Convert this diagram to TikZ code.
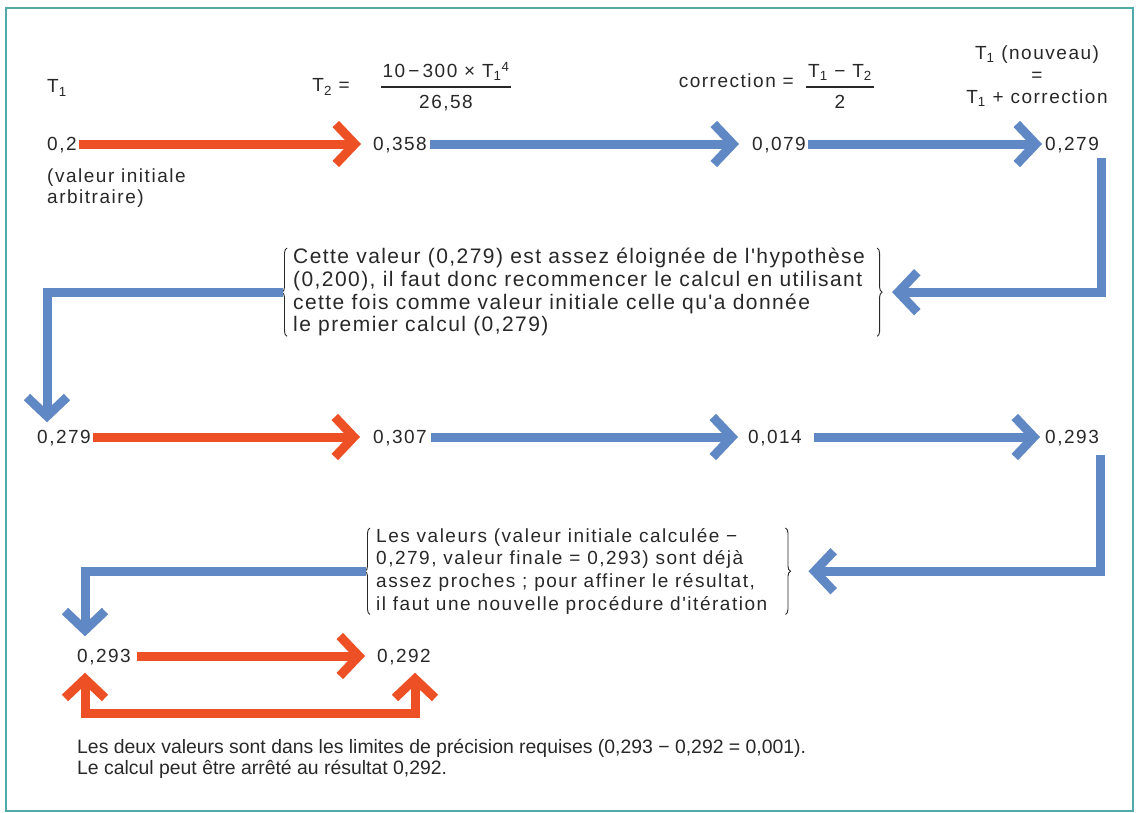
\documentclass[tikz,border=0pt]{standalone}
\usepackage{fontspec}
\setmainfont{Liberation Sans}
\newfontfamily\spaced[LetterSpace=8]{Liberation Sans}
\newfontfamily\spacedwide[LetterSpace=6.8]{Liberation Sans}
\usetikzlibrary{arrows.meta,decorations.pathreplacing}
\definecolor{arrred}{RGB}{238,80,38}
\definecolor{arrblue}{RGB}{96,136,196}
\definecolor{framec}{RGB}{80,170,170}
\definecolor{ink}{RGB}{40,40,40}
\begin{document}
\begin{tikzpicture}[x=1pt,y=-1pt,
  chev/.tip={Straight Barb[length=19pt,width=40pt,sharp]},
  every node/.style={text=ink, inner sep=0pt, font=\spaced\fontsize{19}{23}\selectfont},
  val/.style={anchor=west, text height=13pt, text depth=0pt},
  note/.style={anchor=north west, align=left, font=\spaced\fontsize{19}{22.7}\selectfont},
  flow/.style={line width=9pt, -chev},
  hot/.style={flow, draw=arrred},
  cold/.style={flow, draw=arrblue},
  bracemark/.style={line width=0.9pt, draw=ink, decorate, decoration={brace, amplitude=5pt}},
]
\useasboundingbox (0,0) rectangle (1137,812);
\fill[white] (0,0) rectangle (1137,812);
\draw[framec, line width=2pt] (6,8) rectangle (1133,811);

% column headings
\node[anchor=west] (t1) at (47,88) {T\textsubscript{1}};
\node[anchor=east] (t2) at (350,87) {T\textsubscript{2} =};
\node (f1) at (446,87) {\setlength{\arrayrulewidth}{1.2pt}\renewcommand{\arraystretch}{1.3}%
  \begin{tabular}{@{\hspace{2pt}}c@{\hspace{2pt}}}10\,−\,300 × T\textsubscript{1}\textsuperscript{4}\\\hline 26,58\end{tabular}};
\node[anchor=east] (corr) at (794,81) {correction =};
\node (f2) at (840,87) {\setlength{\arrayrulewidth}{1.2pt}\renewcommand{\arraystretch}{1.3}%
  \begin{tabular}{@{\hspace{2pt}}c@{\hspace{2pt}}}T\textsubscript{1} − T\textsubscript{2}\\\hline 2\end{tabular}};
\node[align=center, font=\spaced\fontsize{19}{22}\selectfont] (tn) at (1037,76)
  {T\textsubscript{1} (nouveau)\\=\\T\textsubscript{1} + correction};

% first pass
\node[val] (a1) at (47,144) {0,2};
\node[anchor=north west, align=left, font=\spaced\fontsize{19}{21}\selectfont] (ini) at (47,169) {(valeur initiale\\arbitraire)};
\node[val] (b1) at (373,144) {0,358};
\node[val] (c1) at (752,144) {0,079};
\node[val] (d1) at (1045,144) {0,279};
\draw[hot]  ([xshift=2pt]a1.east) -- ([xshift=-12pt]b1.west);
\draw[cold] ([xshift=3pt]b1.east) -- ([xshift=-13pt]c1.west);
\draw[cold] ([xshift=2pt]c1.east) -- ([xshift=-3pt]d1.west);

\node[note, font=\spacedwide\fontsize{21}{22.7}\selectfont] (n1) at (293,248) {Cette valeur (0,279) est assez éloignée de l'hypothèse\\
  (0,200), il faut donc recommencer le calcul en utilisant\\
  cette fois comme valeur initiale celle qu'a donnée\\
  le premier calcul (0,279)};
\draw[bracemark] ([xshift=-6pt]n1.south west) -- ([xshift=-6pt]n1.north west);
\draw[bracemark] ([xshift=12pt]n1.north east) -- ([xshift=12pt]n1.south east);
\coordinate (drop1) at (1101,158);
\draw[cold] (drop1) |- ([xshift=27pt]n1.east);

% second pass
\node[val] (a2) at (37,437) {0,279};
\node[val] (b2) at (373,437) {0,307};
\node[val] (c2) at (748,437) {0,014};
\node[val] (d2) at (1045,437) {0,293};
\draw[cold] ([xshift=-10pt]n1.west) -| ([xshift=10pt,yshift=8pt]a2.north west);
\draw[hot]  ([xshift=2pt]a2.east) -- ([xshift=-13pt]b2.west);
\draw[cold] ([xshift=4pt]b2.east) -- ([xshift=-10pt]c2.west);
\draw[cold] ([xshift=12pt]c2.east) -- ([xshift=-5pt]d2.west);

\node[note] (n2) at (376,528) {Les valeurs (valeur initiale calculée −\\
  0,279, valeur finale = 0,293) sont déjà\\
  assez proches ; pour affiner le résultat,\\
  il faut une nouvelle procédure d'itération};
\draw[bracemark] ([xshift=-6pt]n2.south west) -- ([xshift=-6pt]n2.north west);
\draw[bracemark] ([xshift=18pt]n2.north east) -- ([xshift=18pt]n2.south east);
\coordinate (drop2) at (1100,455);
\draw[cold] (drop2) |- ([xshift=41pt]n2.east);

% final pass
\node[val] (a3) at (77,656) {0,293};
\node[val] (b3) at (377,656) {0,292};
\draw[cold] ([xshift=-10pt]n2.west) -| ([xshift=8pt,yshift=13pt]a3.north west);
\draw[hot]  ([xshift=6pt]a3.east) -- ([xshift=-12pt]b3.west);
\coordinate (ubot) at (415,713);
\draw[hot, chev-chev] ([xshift=8pt,yshift=-10pt]a3.south west) |- (ubot) -- ([xshift=38pt,yshift=-10pt]b3.south west);

\node[anchor=north west, align=left, font=\fontsize{19.4}{21}\selectfont] (concl) at (77,739)
  {Les deux valeurs sont dans les limites de précision requises (0,293 − 0,292 = 0,001).\\
   Le calcul peut être arrêté au résultat 0,292.};
\end{tikzpicture}
\end{document}
